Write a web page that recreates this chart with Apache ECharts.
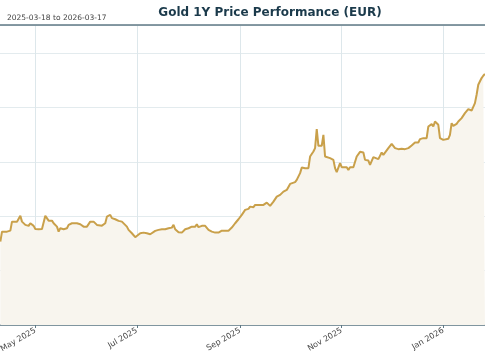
<!DOCTYPE html>
<html>
<head>
<meta charset="utf-8">
<script src="https://cdn.jsdelivr.net/npm/echarts@6/dist/echarts.min.js"></script>
<style>html,body{margin:0;padding:0;background:#fff;}#c{width:485px;height:360px;}</style>
</head>
<body>
<div id="c"></div>
<script>
const titleText = 'Gold 1Y Price Performance (EUR)';
const subtitleText = '2025-03-18 to 2026-03-17';
const tickDates = ['2025-05-01', '2025-07-01', '2025-09-01', '2025-11-01', '2026-01-01'];
const monthNames = ['Jan','Feb','Mar','Apr','May','Jun','Jul','Aug','Sep','Oct','Nov','Dec'];
const yMin = 2000, yMax = 4760, yStep = 500;
const viewStart = '2025-04-09T19:00:00Z', viewEnd = '2026-01-26T01:00:00Z';

const dates = [
'2025-04-10','2025-04-11','2025-04-12','2025-04-14','2025-04-16','2025-04-17','2025-04-18','2025-04-20','2025-04-21','2025-04-22',
'2025-04-23','2025-04-24','2025-04-25','2025-04-27','2025-04-28','2025-04-30','2025-05-01','2025-05-03','2025-05-05','2025-05-07',
'2025-05-08','2025-05-09','2025-05-11','2025-05-12','2025-05-14','2025-05-15','2025-05-16','2025-05-18','2025-05-19','2025-05-20',
'2025-05-21','2025-05-23','2025-05-24','2025-05-26','2025-05-28','2025-05-30','2025-06-01','2025-06-03','2025-06-05','2025-06-07',
'2025-06-08','2025-06-10','2025-06-12','2025-06-13','2025-06-15','2025-06-16','2025-06-18','2025-06-20','2025-06-22','2025-06-23',
'2025-06-25','2025-06-26','2025-06-28','2025-06-30','2025-07-01','2025-07-03','2025-07-05','2025-07-07','2025-07-09','2025-07-10',
'2025-07-12','2025-07-14','2025-07-16','2025-07-18','2025-07-20','2025-07-22','2025-07-23','2025-07-24','2025-07-26','2025-07-28',
'2025-07-30','2025-08-01','2025-08-03','2025-08-05','2025-08-06','2025-08-07','2025-08-09','2025-08-11','2025-08-13','2025-08-15',
'2025-08-17','2025-08-19','2025-08-21','2025-08-23','2025-08-25','2025-08-27','2025-08-29','2025-08-31','2025-09-01','2025-09-02',
'2025-09-04','2025-09-05','2025-09-06','2025-09-07','2025-09-09','2025-09-10','2025-09-11','2025-09-13','2025-09-15','2025-09-17',
'2025-09-18','2025-09-19','2025-09-21','2025-09-22','2025-09-23','2025-09-25','2025-09-26','2025-09-27','2025-09-29','2025-10-01',
'2025-10-02','2025-10-04','2025-10-05','2025-10-07','2025-10-08','2025-10-09','2025-10-10','2025-10-12','2025-10-13','2025-10-15',
'2025-10-16','2025-10-17','2025-10-18','2025-10-20','2025-10-21','2025-10-22','2025-10-23','2025-10-25','2025-10-27','2025-10-28',
'2025-10-29','2025-10-30','2025-10-31','2025-11-01','2025-11-02','2025-11-04','2025-11-05','2025-11-06','2025-11-08','2025-11-09',
'2025-11-10','2025-11-12','2025-11-13','2025-11-14','2025-11-15','2025-11-16','2025-11-17','2025-11-18','2025-11-20','2025-11-21',
'2025-11-23','2025-11-25','2025-11-26','2025-11-27','2025-11-29','2025-12-01','2025-12-02','2025-12-03','2025-12-05','2025-12-07',
'2025-12-09','2025-12-11','2025-12-13','2025-12-15','2025-12-17','2025-12-18','2025-12-20','2025-12-22','2025-12-23','2025-12-25',
'2025-12-26','2025-12-27','2025-12-28','2025-12-29','2025-12-30','2026-01-01','2026-01-02','2026-01-04','2026-01-05','2026-01-06',
'2026-01-07','2026-01-09','2026-01-10','2026-01-12','2026-01-14','2026-01-15','2026-01-16','2026-01-18','2026-01-20','2026-01-21',
'2026-01-22','2026-01-23','2026-01-24','2026-01-25','2026-01-26'
];
const prices = [
2767,2859,2875,2859,2868,2951,2946,2951,2946,3004,
2951,2967,2921,2912,2936,2912,2884,2881,2884,3004,
2992,2960,2960,2936,2905,2859,2890,2881,2896,2890,
2921,2936,2946,2936,2927,2905,2905,2951,2951,2921,
2914,2914,2936,2997,3013,2983,2973,2958,2951,2951,
2905,2875,2844,2808,2804,2844,2850,2844,2835,2850,
2866,2875,2881,2881,2890,2896,2921,2881,2854,2850,
2881,2890,2905,2905,2927,2900,2912,2912,2875,2859,
2850,2850,2868,2868,2868,2896,2936,2973,2978,3013,
3059,3073,3068,3089,3084,3105,3099,3105,3105,3126,
3111,3096,3135,3145,3181,3197,3213,3227,3243,3298,
3310,3314,3335,3397,3448,3464,3443,3443,3550,3596,
3627,3802,3648,3648,3750,3550,3535,3535,3519,3443,
3406,3412,3489,3452,3452,3452,3427,3452,3452,3458,
3550,3593,3611,3587,3519,3529,3513,3473,3544,3535,
3526,3587,3565,3581,3627,3667,3657,3627,3618,3621,
3618,3627,3651,3679,3679,3710,3719,3719,3826,3848,
3826,3872,3878,3842,3719,3703,3703,3713,3750,3857,
3832,3851,3872,3903,3949,3964,3986,3973,4041,4118,
4210,4219,4272,4293,4310
];

const chart = echarts.init(document.getElementById('c'), null, {renderer: 'canvas'});
const toTs = s => Date.parse(s.length === 10 ? s + 'T00:00:00Z' : s);
const seriesData = dates.map((d, i) => [toTs(d), prices[i]]);
const tickTs = tickDates.map(toTs);
const fmt = v => { const d = new Date(v); return monthNames[d.getUTCMonth()] + ' ' + d.getUTCFullYear(); };
const FONT = 'DejaVu Sans';
const xMin = toTs(viewStart), xMax = toTs(viewEnd);

chart.setOption({
  animation: false,
  backgroundColor: '#ffffff',
  title: [
    { text: titleText, left: 265, top: 2, textAlign: 'center',
      textStyle: { fontFamily: FONT, fontSize: 12, fontWeight: 'bold', color: '#1b3a4b' } },
    { text: subtitleText, left: 2, top: 9,
      textStyle: { fontFamily: FONT, fontSize: 7.5, fontWeight: 'normal', color: '#444444' } }
  ],
  grid: { left: 0, right: 0, top: 25, bottom: 35, containLabel: false, outerBoundsMode: 'none' },
  xAxis: [
    {
      type: 'value', position: 'bottom',
      min: xMin, max: xMax,
      axisLine: { show: true, lineStyle: { color: '#5f7884', width: 1.5 } },
      axisTick: { show: true, customValues: tickTs, length: 3, lineStyle: { color: '#5f7884', width: 1 } },
      axisLabel: { show: true, customValues: tickTs, rotate: 30, margin: 5, formatter: fmt,
        fontFamily: FONT, fontSize: 8, color: '#444444' },
      splitLine: { show: true, lineStyle: { color: '#dde7eb', width: 1 } }
    },
    {
      type: 'value', position: 'top',
      min: xMin, max: xMax,
      axisLine: { show: true, lineStyle: { color: '#5f7884', width: 1.5 } },
      axisTick: { show: false }, axisLabel: { show: false }, splitLine: { show: false }
    }
  ],
  yAxis: {
    type: 'value', min: yMin, max: yMax, interval: yStep,
    axisLine: { show: false }, axisTick: { show: false }, axisLabel: { show: false },
    splitLine: { show: true, lineStyle: { color: '#e3ebee', width: 1 } }
  },
  series: [{
    type: 'line', xAxisIndex: 0, data: seriesData,
    showSymbol: false, symbol: 'none', clip: true,
    lineStyle: { color: '#c9a04a', width: 2 },
    areaStyle: { color: '#f8f5ee', opacity: 1, origin: 'start' },
    z: 3
  }]
});
</script>
</body>
</html>
